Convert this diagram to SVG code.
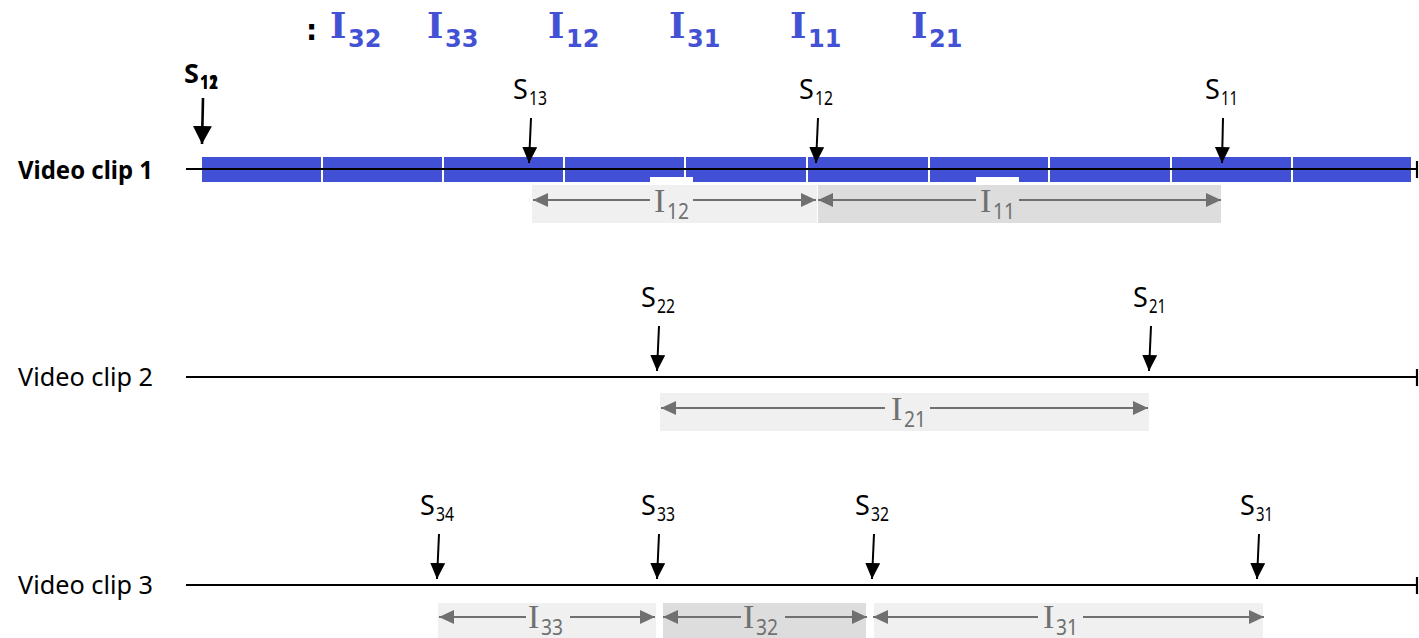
<svg xmlns="http://www.w3.org/2000/svg" width="1419" height="638" viewBox="0 0 1419 638">
<style>
.title{font-family:"DejaVu Serif",serif;font-weight:bold;font-size:35px;fill:#4352D4}
.tsub{font-family:"DejaVu Sans",sans-serif;font-weight:bold;font-size:24px;fill:#4352D4}
.clip{font-family:"Noto Sans","DejaVu Sans",sans-serif;font-size:25px;fill:#000}
.s{font-family:"Noto Sans","DejaVu Sans",sans-serif;font-size:27px;fill:#000}
.ssub{font-family:"Noto Sans","DejaVu Sans",sans-serif;font-size:20px;fill:#000}
.il{font-family:"Liberation Serif",serif;font-size:34px;fill:#707070}
.isub{font-family:"Noto Sans","DejaVu Sans",sans-serif;font-size:21px;fill:#707070}
.axis{stroke:#000;stroke-width:2.2;fill:none}
.sarrow{stroke:#000;stroke-width:2;fill:none;marker-end:url(#ah)}
.iarrow{stroke:#707070;stroke-width:2;fill:none;marker-end:url(#gh)}
.light{fill:#F0F0F0}
.dark{fill:#DDDDDD}
</style>
<defs>
<marker id="ah" markerUnits="userSpaceOnUse" markerWidth="17" markerHeight="16" refX="16" refY="8" orient="auto" viewBox="0 0 17 16"><path d="M0,0.5 L16,8 L0,15.5 z" fill="#000"/></marker>
<marker id="ahb" markerUnits="userSpaceOnUse" markerWidth="19" markerHeight="20" refX="18" refY="10" orient="auto" viewBox="0 0 19 20"><path d="M0,0.5 L18,10 L0,19.5 z" fill="#000"/></marker>
<marker id="gh" markerUnits="userSpaceOnUse" markerWidth="16" markerHeight="15" refX="15" refY="7.5" orient="auto" viewBox="0 0 16 15"><path d="M0,0.5 L15,7.5 L0,14.5 z" fill="#707070"/></marker>
</defs>

<g id="title">
<text x="306" y="40" style="font-family:'DejaVu Sans',sans-serif;font-weight:bold;font-size:28px;fill:#000">:</text>
<text class="title" x="330" y="38">I</text><text class="tsub" x="348" y="47">32</text>
<text class="title" x="427" y="38">I</text><text class="tsub" x="445" y="47">33</text>
<text class="title" x="548" y="38">I</text><text class="tsub" x="566" y="47">12</text>
<text class="title" x="669" y="38">I</text><text class="tsub" x="687" y="47">31</text>
<text class="title" x="790" y="38">I</text><text class="tsub" x="808" y="47">11</text>
<text class="title" x="911" y="38">I</text><text class="tsub" x="929" y="47">21</text>
</g>

<g id="clip1">
<text class="clip" x="18" y="179" font-weight="bold" textLength="135" lengthAdjust="spacingAndGlyphs">Video clip 1</text>
<rect x="202" y="157" width="1209" height="25" fill="#4150D4"/>
<g fill="#fff">
<rect x="321" y="157" width="2" height="25"/>
<rect x="442" y="157" width="2" height="25"/>
<rect x="563" y="157" width="2" height="25"/>
<rect x="684" y="157" width="2" height="25"/>
<rect x="806" y="157" width="2" height="25"/>
<rect x="928" y="157" width="2" height="25"/>
<rect x="1048" y="157" width="2" height="25"/>
<rect x="1170" y="157" width="2" height="25"/>
<rect x="1291" y="157" width="2" height="25"/>
<rect x="650" y="177" width="43" height="5"/>
<rect x="976" y="177" width="43" height="5"/>
</g>
<line class="axis" x1="186" y1="169" x2="1417" y2="169"/>
<line class="axis" x1="1417" y1="161" x2="1417" y2="178"/>
<rect class="light" x="532" y="185" width="285" height="38"/>
<rect class="dark" x="818" y="185" width="403" height="38"/>
</g>

<g id="clip2">
<text class="clip" x="18" y="386" textLength="135" lengthAdjust="spacingAndGlyphs">Video clip 2</text>
<line class="axis" x1="186" y1="377" x2="1417" y2="377"/>
<line class="axis" x1="1417" y1="369" x2="1417" y2="386"/>
<rect class="light" x="660" y="393" width="489" height="38"/>
</g>

<g id="clip3">
<text class="clip" x="18" y="594" textLength="135" lengthAdjust="spacingAndGlyphs">Video clip 3</text>
<line class="axis" x1="186" y1="585" x2="1417" y2="585"/>
<line class="axis" x1="1417" y1="577" x2="1417" y2="594"/>
<rect class="light" x="438" y="603" width="218" height="38"/>
<rect class="dark" x="663" y="603" width="203" height="38"/>
<rect class="light" x="874" y="603" width="389" height="38"/>
</g>

<g id="s-labels">
<text class="s" x="184" y="83" font-weight="bold">S</text>
<text class="ssub" x="200" y="89" font-weight="bold" textLength="18" lengthAdjust="spacingAndGlyphs">11</text>
<text class="ssub" x="200" y="89" font-weight="bold" textLength="18" lengthAdjust="spacingAndGlyphs">12</text>
<text class="s" x="513" y="99">S</text><text class="ssub" x="529" y="105" textLength="18" lengthAdjust="spacingAndGlyphs">13</text>
<text class="s" x="799" y="99">S</text><text class="ssub" x="815" y="105" textLength="18" lengthAdjust="spacingAndGlyphs">12</text>
<text class="s" x="1205" y="99">S</text><text class="ssub" x="1221" y="105" textLength="17" lengthAdjust="spacingAndGlyphs">11</text>
<text class="s" x="641" y="307">S</text><text class="ssub" x="657" y="313" textLength="18" lengthAdjust="spacingAndGlyphs">22</text>
<text class="s" x="1133" y="307">S</text><text class="ssub" x="1149" y="313" textLength="17" lengthAdjust="spacingAndGlyphs">21</text>
<text class="s" x="420" y="515">S</text><text class="ssub" x="436" y="521" textLength="18" lengthAdjust="spacingAndGlyphs">34</text>
<text class="s" x="641" y="515">S</text><text class="ssub" x="657" y="521" textLength="18" lengthAdjust="spacingAndGlyphs">33</text>
<text class="s" x="855" y="515">S</text><text class="ssub" x="871" y="521" textLength="18" lengthAdjust="spacingAndGlyphs">32</text>
<text class="s" x="1240" y="515">S</text><text class="ssub" x="1256" y="521" textLength="17" lengthAdjust="spacingAndGlyphs">31</text>
</g>

<g id="interval-labels">
<text class="il" x="654" y="212">I</text><text class="isub" x="667" y="219" textLength="22" lengthAdjust="spacingAndGlyphs">12</text>
<text class="il" x="980" y="212">I</text><text class="isub" x="993" y="219" textLength="22" lengthAdjust="spacingAndGlyphs">11</text>
<text class="il" x="891" y="420">I</text><text class="isub" x="904" y="427" textLength="22" lengthAdjust="spacingAndGlyphs">21</text>
<text class="il" x="528" y="628">I</text><text class="isub" x="541" y="635" textLength="22" lengthAdjust="spacingAndGlyphs">33</text>
<text class="il" x="743" y="628">I</text><text class="isub" x="756" y="635" textLength="22" lengthAdjust="spacingAndGlyphs">32</text>
<text class="il" x="1043" y="628">I</text><text class="isub" x="1056" y="635" textLength="22" lengthAdjust="spacingAndGlyphs">31</text>
</g>

<g id="connectors">
<line x1="203" y1="98" x2="202" y2="144" stroke="#000" stroke-width="2.6" marker-end="url(#ahb)"/>
<line class="sarrow" x1="531" y1="118" x2="529" y2="163"/>
<line class="sarrow" x1="818" y1="118" x2="816" y2="163"/>
<line class="sarrow" x1="1223" y1="118" x2="1222" y2="163"/>
<line class="sarrow" x1="659" y1="326" x2="657" y2="371"/>
<line class="sarrow" x1="1151" y1="326" x2="1149" y2="371"/>
<line class="sarrow" x1="439" y1="534" x2="437" y2="579"/>
<line class="sarrow" x1="659" y1="534" x2="657" y2="579"/>
<line class="sarrow" x1="874" y1="534" x2="872" y2="579"/>
<line class="sarrow" x1="1259" y1="534" x2="1257" y2="579"/>

<line class="iarrow" x1="650" y1="200" x2="533" y2="200"/>
<line class="iarrow" x1="693" y1="200" x2="816" y2="200"/>
<line class="iarrow" x1="976" y1="200" x2="818" y2="200"/>
<line class="iarrow" x1="1019" y1="200" x2="1221" y2="200"/>
<line class="iarrow" x1="885" y1="408" x2="661" y2="408"/>
<line class="iarrow" x1="930" y1="408" x2="1148" y2="408"/>
<line class="iarrow" x1="526" y1="617" x2="439" y2="617"/>
<line class="iarrow" x1="570" y1="617" x2="655" y2="617"/>
<line class="iarrow" x1="741" y1="617" x2="663" y2="617"/>
<line class="iarrow" x1="785" y1="617" x2="867" y2="617"/>
<line class="iarrow" x1="1038" y1="617" x2="873" y2="617"/>
<line class="iarrow" x1="1083" y1="617" x2="1264" y2="617"/>
</g>
</svg>
